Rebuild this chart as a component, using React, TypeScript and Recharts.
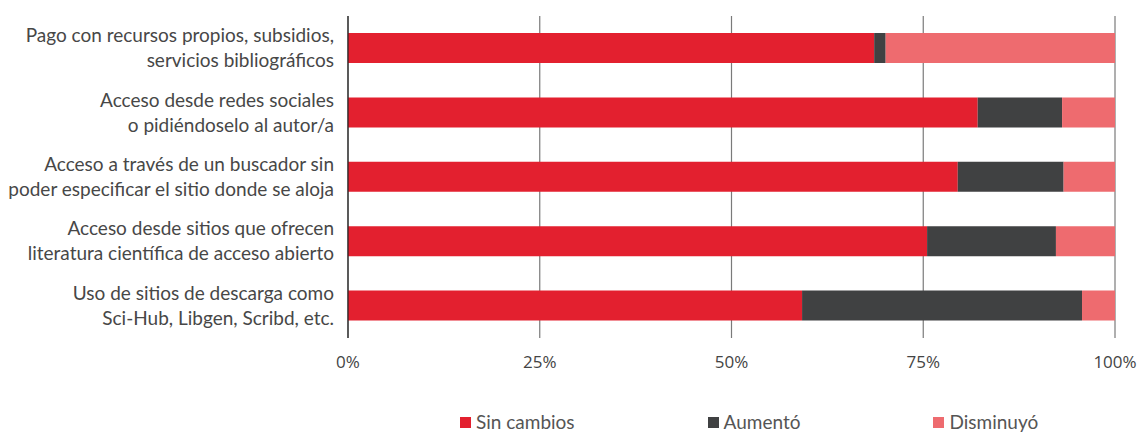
import { BarChart, Bar, XAxis, YAxis, CartesianGrid, Legend } from 'recharts';

const categories = [
  'Pago con recursos propios, subsidios,\nservicios bibliográficos',
  'Acceso desde redes sociales\no pidiéndoselo al autor/a',
  'Acceso a través de un buscador sin\npoder especificar el sitio donde se aloja',
  'Acceso desde sitios que ofrecen\nliteratura científica de acceso abierto',
  'Uso de sitios de descarga como\nSci-Hub, Libgen, Scribd, etc.',
];
const sinCambios = [68.6, 82.1, 79.5, 75.5, 59.2];
const aumento = [1.5, 11.0, 13.8, 16.8, 36.5];
const disminuyo = [29.9, 6.9, 6.7, 7.7, 4.3];
const xTicks = [0, 25, 50, 75, 100];

const series = [
  { key: 'sin', name: 'Sin cambios', color: '#e3202f' },
  { key: 'aum', name: 'Aumentó', color: '#404142' },
  { key: 'dis', name: 'Disminuyó', color: '#ee6b6f' },
];

const data = categories.map((c, i) => ({
  cat: c,
  sin: sinCambios[i],
  aum: aumento[i],
  dis: disminuyo[i],
}));

const FONT = 'Lato, sans-serif';

function CategoryTick(props: any) {
  const { x, y, payload } = props;
  const lines = String(payload.value).split('\n');
  return (
    <text x={x} y={y} textAnchor="end" fill="#474747" fontSize={19} fontFamily={FONT}>
      {lines.map((l, i) => (
        <tspan key={i} x={x} dy={i === 0 ? -12.5 + 6.5 : 25}>
          {l}
        </tspan>
      ))}
    </text>
  );
}

function LegendContent() {
  return (
    <div
      style={{
        display: 'flex',
        paddingLeft: 460,
        fontFamily: FONT,
        fontSize: 19,
        color: '#555',
        lineHeight: '20px',
        whiteSpace: 'nowrap',
        width: 1142,
        boxSizing: 'border-box',
      }}
    >
      {series.map((s) => (
        <div key={s.key} style={{ display: 'flex', alignItems: 'center', marginRight: 133, flexShrink: 0 }}>
          <span style={{ width: 11, height: 11, background: s.color, marginRight: 5, display: 'inline-block' }} />
          <span>{s.name}</span>
        </div>
      ))}
    </div>
  );
}

export default function App() {
  return (
    <div style={{ width: 1142, height: 432 }}>
      <style>{'body{margin:0}'}</style>
      <BarChart
        width={1142}
        height={432}
        data={data}
        layout="vertical"
        margin={{ top: 16, right: 27, left: 0, bottom: 42 }}
        barSize={30}
      >
        <CartesianGrid horizontal={false} stroke="#7a7a7a" strokeWidth={1.2} />
        <XAxis
          type="number"
          domain={[0, 100]}
          ticks={xTicks}
          tickFormatter={(v) => `${v}%`}
          axisLine={false}
          tickLine={false}
          tickMargin={12}
          height={30}
          tick={{ fill: '#444', fontSize: 17, fontFamily: 'Open Sans, sans-serif' }}
        />
        <YAxis
          type="category"
          dataKey="cat"
          width={348}
          axisLine={{ stroke: '#222', strokeWidth: 1.2 }}
          tickLine={false}
          tickMargin={8}
          tick={<CategoryTick />}
          interval={0}
        />
        <Legend
          verticalAlign="bottom"
          content={<LegendContent />}
          wrapperStyle={{ top: 412, left: 0, width: 1142, bottom: undefined, height: 22 }}
        />
        {series.map((s) => (
          <Bar key={s.key} dataKey={s.key} name={s.name} stackId="a" fill={s.color} isAnimationActive={false} />
        ))}
      </BarChart>
    </div>
  );
}
